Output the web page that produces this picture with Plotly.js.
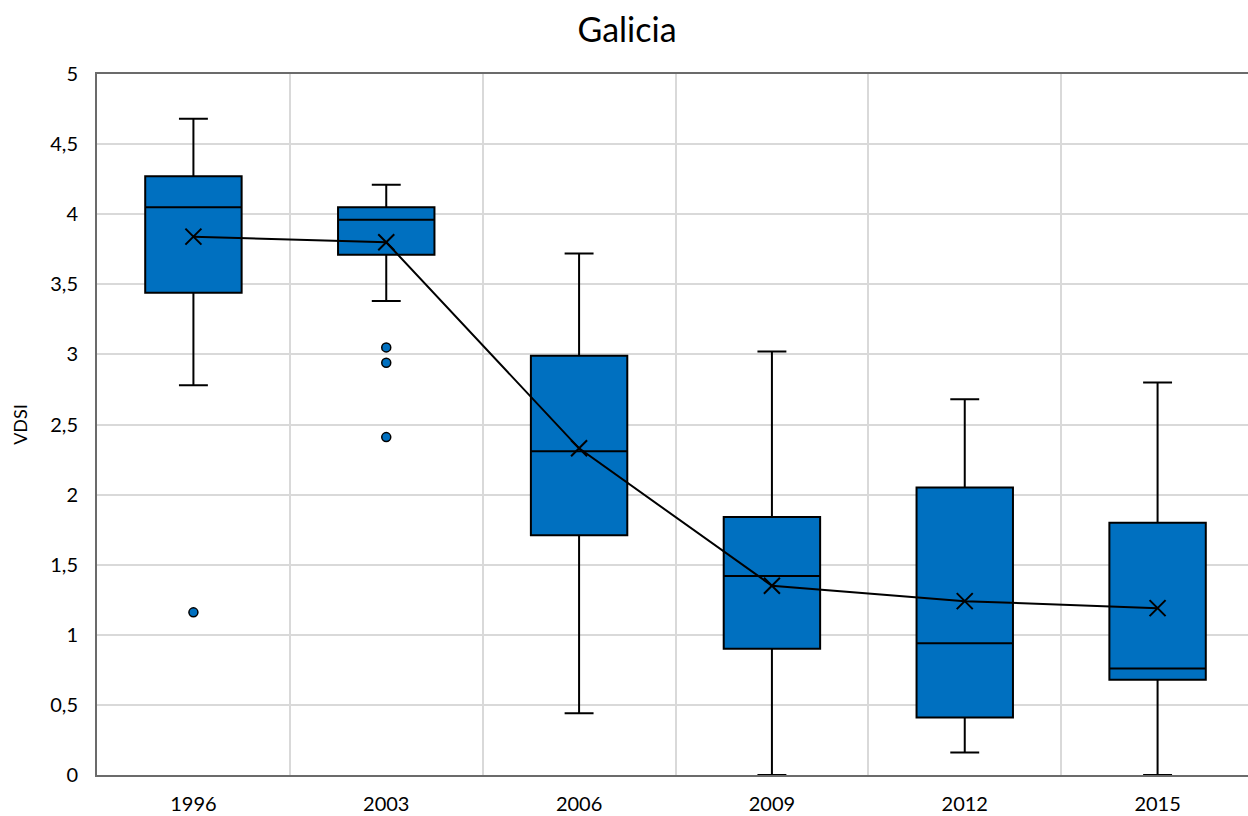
<!DOCTYPE html>
<html>
<head>
<meta charset="utf-8">
<script src="https://cdn.plot.ly/plotly-3.0.1.min.js"></script>
<style>html,body{margin:0;padding:0;overflow:hidden;background:#fff;}</style>
</head>
<body>
<div id="chart"></div>
<script>
const years = ["1996", "2003", "2006", "2009", "2012", "2015"];
const q1 = [3.44, 3.71, 1.71, 0.90, 0.41, 0.68];
const medians = [4.05, 3.96, 2.31, 1.42, 0.94, 0.76];
const q3 = [4.27, 4.05, 2.99, 1.84, 2.05, 1.80];
const lowerWhisker = [2.78, 3.38, 0.44, 0.0, 0.16, 0.0];
const upperWhisker = [4.68, 4.21, 3.72, 3.02, 2.68, 2.80];
const means = [3.84, 3.80, 2.33, 1.35, 1.24, 1.19];
const outlierYears = ["1996", "2003", "2003", "2003"];
const outlierValues = [1.16, 3.05, 2.94, 2.41];
const yTicks = [0, 0.5, 1, 1.5, 2, 2.5, 3, 3.5, 4, 4.5, 5];

const boxColor = "#0070C0";
const font = "Lato, 'Open Sans', sans-serif";

const traces = [
  {
    type: "box",
    x: years,
    q1: q1,
    median: medians,
    q3: q3,
    lowerfence: lowerWhisker,
    upperfence: upperWhisker,
    fillcolor: boxColor,
    line: {color: "#000", width: 2},
    width: 0.5,
    whiskerwidth: 0.3,
    boxpoints: false,
    hoverinfo: "skip",
    showlegend: false
  },
  {
    type: "scatter",
    x: years,
    y: means,
    mode: "lines+markers",
    line: {color: "#000", width: 2},
    marker: {symbol: "x-thin", size: 16, line: {color: "#000", width: 2}},
    showlegend: false
  },
  {
    type: "scatter",
    x: outlierYears,
    y: outlierValues,
    mode: "markers",
    marker: {symbol: "circle", size: 9, color: boxColor, line: {color: "#000", width: 1.5}},
    showlegend: false
  }
];

const layout = {
  width: 1254,
  height: 816,
  margin: {l: 97, r: 0, t: 74, b: 41},
  paper_bgcolor: "#fff",
  plot_bgcolor: "#fff",
  separators: ",.",
  font: {family: font, color: "#000"},
  title: {text: "Galicia", font: {family: font, size: 34, color: "#000"}, x: 0.5, xanchor: "center", y: 0.963, yanchor: "middle"},
  xaxis: {
    type: "category",
    categoryorder: "array",
    categoryarray: years,
    range: [-0.5, 5.5],
    tickson: "boundaries",
    showgrid: true,
    gridcolor: "#d9d9d9",
    gridwidth: 2,
    ticks: "",
    showline: true,
    linecolor: "#6b6b6b",
    linewidth: 2,
    mirror: true,
    ticklabelstandoff: 10,
    tickfont: {family: font, size: 20, color: "#000"},
    zeroline: false
  },
  yaxis: {
    range: [0, 5],
    tickvals: yTicks,
    showgrid: true,
    gridcolor: "#d9d9d9",
    gridwidth: 2,
    ticks: "",
    showline: true,
    linecolor: "#6b6b6b",
    linewidth: 2,
    mirror: true,
    zeroline: false,
    ticklabelstandoff: 13,
    tickfont: {family: font, size: 20, color: "#000"},
    title: {text: "VDSI", font: {family: font, size: 18, color: "#000"}, standoff: 18}
  }
};

Plotly.newPlot("chart", traces, layout, {displayModeBar: false, staticPlot: true});
</script>
</body>
</html>
